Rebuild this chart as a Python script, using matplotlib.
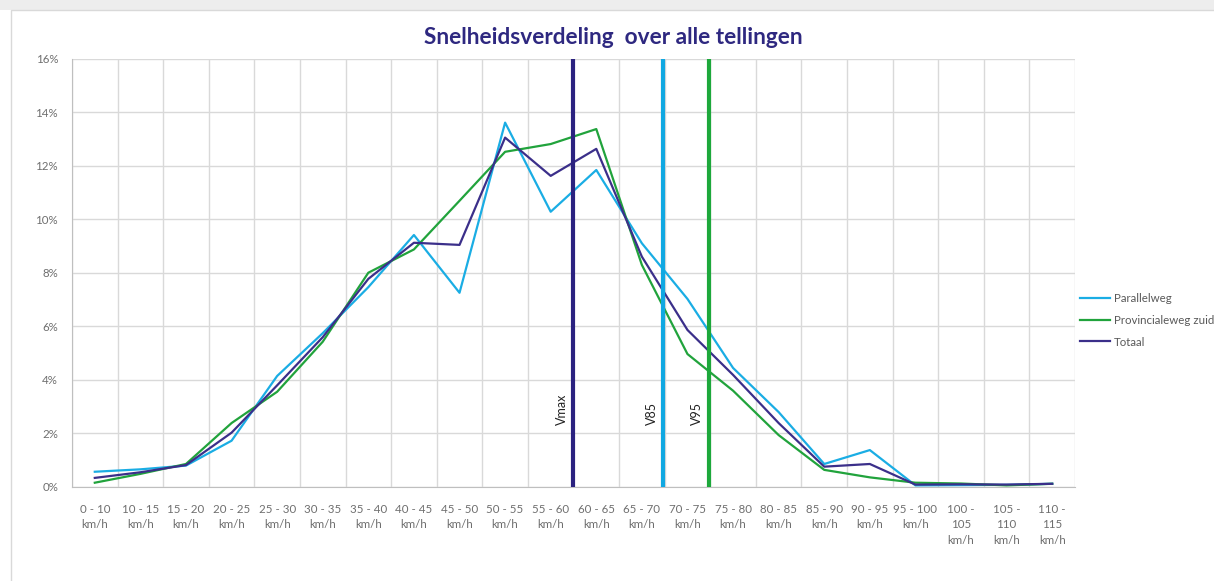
import matplotlib.pyplot as plt
from matplotlib.patches import Rectangle

plt.rcParams['font.family'] = ['Lato', 'DejaVu Sans']

categories = ['0 - 10\nkm/h', '10 - 15\nkm/h', '15 - 20\nkm/h', '20 - 25\nkm/h', '25 - 30\nkm/h',
              '30 - 35\nkm/h', '35 - 40\nkm/h', '40 - 45\nkm/h', '45 - 50\nkm/h', '50 - 55\nkm/h',
              '55 - 60\nkm/h', '60 - 65\nkm/h', '65 - 70\nkm/h', '70 - 75\nkm/h', '75 - 80\nkm/h',
              '80 - 85\nkm/h', '85 - 90\nkm/h', '90 - 95\nkm/h', '95 - 100\nkm/h', '100 -\n105\nkm/h',
              '105 -\n110\nkm/h', '110 -\n115\nkm/h']

parallelweg = [0.57, 0.66, 0.80, 1.73, 4.15, 5.75, 7.47, 9.42, 7.26, 13.62, 10.29, 11.85,
               9.11, 7.03, 4.45, 2.80, 0.86, 1.38, 0.06, 0.07, 0.08, 0.12]
provinciaal = [0.16, 0.49, 0.86, 2.39, 3.56, 5.43, 8.01, 8.88, 10.70, 12.53, 12.82, 13.38,
               8.30, 4.97, 3.60, 1.94, 0.64, 0.36, 0.16, 0.13, 0.06, 0.12]
totaal = [0.34, 0.55, 0.82, 2.03, 3.80, 5.60, 7.78, 9.13, 9.05, 13.06, 11.63, 12.64,
          8.61, 5.87, 4.19, 2.39, 0.76, 0.86, 0.09, 0.10, 0.09, 0.12]

# markers as category positions (Vmax = 60 km/h boundary)
markers = ['Vmax', 'V85', 'V95']
marker_pos = [10.5, 12.47, 13.47]
marker_colors = ['#2B2280', '#10A8E2', '#1DA83B']

c_par = '#1AADE4'
c_prov = '#21A33C'
c_tot = '#3B2F8A'
text_col = '#6E6E6E'

fig = plt.figure(figsize=(12.14, 5.81), dpi=100)
fig.patches.append(Rectangle((0, 0.983), 1, 0.017, transform=fig.transFigure,
                             facecolor='#EDEDED', edgecolor='none'))
fig.patches.append(Rectangle((0.009, -0.01), 1, 0.993, transform=fig.transFigure,
                             facecolor='none', edgecolor='#D9D9D9', linewidth=1))
ax = fig.add_axes([0.0593, 0.1618, 0.8262, 0.7367])

x = list(range(len(categories)))
ax.plot(x, parallelweg, color=c_par, lw=1.6, label='Parallelweg', zorder=3)
ax.plot(x, provinciaal, color=c_prov, lw=1.6, label='Provincialeweg zuid', zorder=3)
ax.plot(x, totaal, color=c_tot, lw=1.6, label='Totaal', zorder=3)

for name, pos, col in zip(markers, marker_pos, marker_colors):
    ax.axvline(pos, color=col, lw=3, zorder=4)
    ax.text(pos - 0.12, 2.32, name, rotation=90, ha='right', va='bottom',
            fontsize=9, color='#222222', zorder=5)

ax.set_xlim(-0.5, len(categories) - 0.5)
ax.set_ylim(0, 16)
ax.set_yticks(range(0, 17, 2))
ax.set_yticklabels([f'{v}%' for v in range(0, 17, 2)])
ax.set_xticks(x)
ax.set_xticklabels(categories, va='top', linespacing=1.5)
ax.set_xticks([i - 0.5 for i in range(len(categories) + 1)], minor=True)

ax.grid(False)
ax.grid(True, which='minor', axis='x', color='#D9D9D9', lw=1)
ax.grid(True, which='major', axis='y', color='#D9D9D9', lw=1)
ax.set_axisbelow(True)

ax.tick_params(axis='both', which='both', length=0, colors=text_col, labelsize=8.3)
ax.tick_params(axis='x', pad=12)
ax.tick_params(axis='y', pad=10)
for s in ['top', 'right']:
    ax.spines[s].set_visible(False)
for s in ['left', 'bottom']:
    ax.spines[s].set_color('#BFBFBF')

fig.text(613 / 1214, 1 - 37 / 581, 'Snelheidsverdeling  over alle tellingen', fontsize=16.3,
         fontweight='bold', color='#2E2880', ha='center', va='center')

ax.legend(loc='center left', bbox_to_anchor=(0.995, 0.39), frameon=False, fontsize=8.3,
          handlelength=2.6, handletextpad=0.3, labelspacing=0.95, labelcolor='#595959')

fig.savefig('out.png', dpi=100)
